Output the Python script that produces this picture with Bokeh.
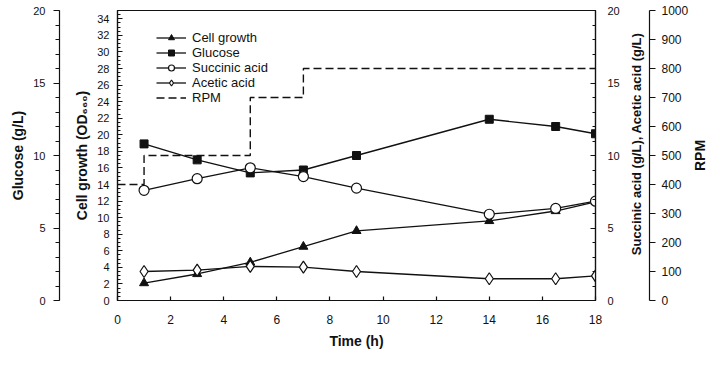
import math
from bokeh.plotting import figure
from bokeh.layouts import row
from bokeh.models import (Range1d, LinearAxis, FixedTicker, Legend, LegendItem,
                          SingleIntervalTicker)
from bokeh.core.properties import value
from bokeh.embed import file_html
from bokeh.resources import INLINE

# ---- data ----
time_h = [1, 3, 5, 7, 9, 14, 16.5, 18]
cell_growth = [2.1, 3.2, 4.6, 6.5, 8.4, 9.6, 10.8, 11.9]      # OD660 (left inner axis)
glucose = [10.8, 9.7, 8.8, 9.0, 10.0, 12.5, 12.0, 11.5]        # g/L (left outer axis)
succinic = [7.6, 8.4, 9.15, 8.55, 7.75, 5.95, 6.35, 6.85]      # g/L (right inner axis)
acetic = [2.0, 2.1, 2.35, 2.3, 2.0, 1.5, 1.5, 1.7]             # g/L (right inner axis)
rpm_time = [0, 1, 5, 7, 18]
rpm = [400, 500, 700, 800, 800]                                 # RPM (right outer axis)
acid_title = ["Succinic acid (g/L), Acetic acid (g/L)"]
rpm_title = ["RPM"]

FONT = "Liberation Sans"
BLACK = "#111111"

H = 351
B_TOP, B_BOTTOM = 10, 45

# ---------------- main plot ----------------
p = figure(width=623, height=H, x_range=Range1d(0, 18), y_range=Range1d(0, 35),
           output_backend="svg", toolbar_location=None,
           min_border_left=117, min_border_right=28,
           min_border_top=B_TOP, min_border_bottom=B_BOTTOM)
p.extra_y_ranges = {"glu": Range1d(0, 20), "acid": Range1d(0, 20), "rpm": Range1d(0, 1000)}
p.grid.visible = False
p.outline_line_color = BLACK
p.outline_line_width = 1.2
p.background_fill_color = "white"
p.border_fill_color = "white"


def style_axis(ax, label, tick_in, tick_out, minor_in, minor_out, lab_size, standoff, label_standoff):
    ax.axis_label = label
    ax.axis_label_text_font = FONT
    ax.axis_label_text_font_style = "bold"
    ax.axis_label_text_font_size = "14px"
    ax.axis_label_text_color = BLACK
    ax.axis_label_standoff = label_standoff
    ax.major_label_text_font = FONT
    ax.major_label_text_font_size = lab_size
    ax.major_label_text_color = BLACK
    ax.major_label_standoff = standoff
    ax.axis_line_color = BLACK
    ax.axis_line_width = 1.2
    ax.major_tick_line_color = BLACK
    ax.major_tick_line_width = 1.2
    ax.minor_tick_line_color = BLACK
    ax.major_tick_in = tick_in
    ax.major_tick_out = tick_out
    ax.minor_tick_in = minor_in
    ax.minor_tick_out = minor_out


# bottom axis
xa = p.xaxis[0]
xa.ticker = SingleIntervalTicker(interval=2, num_minor_ticks=0)
style_axis(xa, "Time (h)", 4, 0, 0, 0, "12px", 14, 6)

# left inner: cell growth
ya = p.yaxis[0]
ya.ticker = SingleIntervalTicker(interval=2, num_minor_ticks=4)
style_axis(ya, "Cell growth (OD\u2086\u2086\u2080)", 5, 0, 3, 0, "11px", 8, 4)

# blank gap between the two left axes: one white tick, empty label
gap = LinearAxis(y_range_name="glu", ticker=FixedTicker(ticks=[20]), axis_line_color=None,
                 major_tick_line_color="white", minor_tick_line_color=None,
                 major_tick_in=0, major_tick_out=12, major_label_standoff=0,
                 major_label_overrides={20: ""}, major_label_text_font_size="1px")
p.add_layout(gap, "left")

# left outer: glucose
ga = LinearAxis(y_range_name="glu", ticker=SingleIntervalTicker(interval=5, num_minor_ticks=5))
style_axis(ga, "Glucose (g/L)", 0, 6, 0, 4, "11px", 8, 4)
p.add_layout(ga, "left")

# right inner: succinic / acetic acid
sa = LinearAxis(y_range_name="acid", ticker=SingleIntervalTicker(interval=5, num_minor_ticks=5))
style_axis(sa, "", 5, 0, 3, 0, "11px", 12, 0)
p.add_layout(sa, "right")

LW = 1.3
l_cell = p.line(time_h, cell_growth, line_color=BLACK, line_width=LW)
s_cell = p.scatter(time_h, cell_growth, marker="triangle", size=9, fill_color=BLACK, line_color=BLACK)

l_glu = p.line(time_h, glucose, y_range_name="glu", line_color=BLACK, line_width=LW)
s_glu = p.scatter(time_h, glucose, y_range_name="glu", marker="square", size=8,
                  fill_color=BLACK, line_color=BLACK)

l_suc = p.line(time_h, succinic, y_range_name="acid", line_color=BLACK, line_width=LW)
s_suc = p.scatter(time_h, succinic, y_range_name="acid", marker="circle", size=10,
                  fill_color="white", line_color=BLACK, line_width=1.2)

l_ace = p.line(time_h, acetic, y_range_name="acid", line_color=BLACK, line_width=LW)
s_ace = p.scatter(time_h, acetic, y_range_name="acid", marker="diamond", size=12,
                  fill_color="white", line_color=BLACK, line_width=1.2)

l_rpm = p.step(rpm_time, rpm, y_range_name="rpm", mode="after", line_color=BLACK,
               line_width=1.4, line_dash="8 4")

legend = Legend(items=[
    LegendItem(label="Cell growth", renderers=[l_cell, s_cell]),
    LegendItem(label="Glucose", renderers=[l_glu, s_glu]),
    LegendItem(label="Succinic acid", renderers=[l_suc, s_suc]),
    LegendItem(label="Acetic acid", renderers=[l_ace, s_ace]),
    LegendItem(label="RPM", renderers=[l_rpm]),
], location=(39, 195), padding=0, margin=0, spacing=0, label_height=15, glyph_height=15,
    glyph_width=30, label_standoff=6, border_line_color=None, background_fill_alpha=0,
    label_text_font=FONT, label_text_font_size="13px", label_text_color=BLACK)
p.add_layout(legend)

# ---------------- strip with acid title + RPM axis ----------------
p2 = figure(width=68, height=H, x_range=Range1d(0, 1), y_range=Range1d(0, 1000),
            output_backend="svg", toolbar_location=None,
            x_axis_location=None, y_axis_location=None,
            min_border_left=0, min_border_right=42, min_border_top=B_TOP, min_border_bottom=B_BOTTOM)
p2.grid.visible = False
p2.outline_line_color = None
p2.border_fill_color = "white"
ra = LinearAxis(ticker=SingleIntervalTicker(interval=100, num_minor_ticks=0))
style_axis(ra, "", 0, 6, 0, 0, "12px", 6, 0)
p2.add_layout(ra, "right")
p2.text(x=[0.5], y=[540], text=acid_title, angle=math.pi / 2, text_align="center",
        text_baseline="middle", text_font=value(FONT), text_font_style="bold",
        text_font_size="13px", text_color=BLACK)

# ---------------- strip with RPM title ----------------
p3 = figure(width=16, height=H, x_range=Range1d(0, 1), y_range=Range1d(0, 1),
            output_backend="svg", toolbar_location=None,
            x_axis_location=None, y_axis_location=None,
            min_border_left=0, min_border_right=0, min_border_top=B_TOP, min_border_bottom=B_BOTTOM)
p3.grid.visible = False
p3.outline_line_color = None
p3.border_fill_color = "white"
p3.text(x=[0.5], y=[0.5], text=rpm_title, angle=math.pi / 2, text_align="center",
        text_baseline="middle", text_font=value(FONT), text_font_style="bold",
        text_font_size="14px", text_color=BLACK)

layout = row(p, p2, p3, spacing=0)
open("out.html", "w").write(file_html(layout, INLINE))
